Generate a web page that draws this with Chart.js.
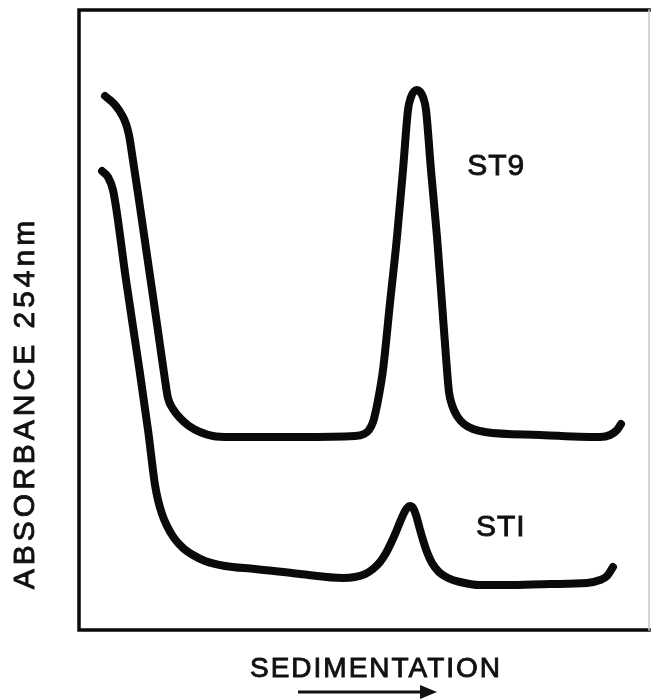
<!DOCTYPE html>
<html>
<head>
<meta charset="utf-8">
<script src="https://cdn.jsdelivr.net/npm/chart.js@4.4.0/dist/chart.umd.min.js"></script>
<style>
    html, body { margin: 0; padding: 0; background: #fff; }
    #wrap { width: 651px; height: 700px; }
</style>
</head>
<body>
<div id="wrap"><canvas id="myChart" width="651" height="700"></canvas></div>
<script>
// sedimentation profiles, arbitrary units (x: distance, y: absorbance)
const st9X = [4.56, 5.44, 6.49, 7.54, 8.25, 8.77, 9.12, 10.70, 12.46, 13.86, 15.09, 15.61, 16.49, 17.72, 19.30,
    21.23, 23.51, 26.49, 38.77, 48.42, 50.00, 50.88, 51.58, 52.11, 52.63, 53.33, 54.56, 55.79, 56.84, 57.72,
    58.25, 58.77, 59.30, 59.82, 60.35, 60.88, 61.75, 62.81, 63.68, 64.56, 64.91, 65.44, 66.32, 67.54, 69.12,
    71.23, 80.88, 91.40, 93.16, 94.39, 95.09];
const st9Y = [86.13, 85.48, 84.52, 83.06, 81.61, 79.84, 77.90, 68.23, 57.10, 48.23, 40.32, 37.42, 35.65, 34.19, 32.90,
    31.94, 31.29, 31.13, 31.13, 31.29, 31.61, 32.26, 33.55, 35.48, 37.90, 41.94, 52.74, 63.39, 74.19, 83.87,
    85.97, 86.85, 87.10, 86.85, 85.97, 83.87, 74.19, 63.39, 52.74, 41.94, 38.39, 36.29, 34.52, 33.23, 32.42,
    31.94, 31.45, 31.13, 31.45, 32.26, 33.23];

const st1X = [4.04, 5.09, 5.96, 6.49, 8.25, 10.35, 12.11, 13.33, 13.86, 14.56, 15.44, 16.67, 18.25, 20.00, 22.11,
    25.61, 30.88, 38.77, 46.32, 48.42, 50.18, 51.58, 52.81, 53.86, 54.74, 55.61, 56.32, 57.02, 57.54, 58.07,
    58.60, 59.12, 59.65, 60.35, 61.05, 61.93, 63.16, 64.74, 66.84, 70.35, 75.09, 82.63, 89.12, 91.40, 92.63, 93.68];
const st1Y = [74.03, 73.06, 70.97, 68.23, 56.45, 43.55, 32.26, 23.39, 20.97, 18.71, 16.77, 14.84, 13.23, 12.10, 11.13,
    10.32, 9.84, 9.03, 8.39, 8.55, 9.03, 9.84, 10.97, 12.42, 14.03, 15.81, 17.42, 18.87, 19.68, 20.00,
    19.68, 18.55, 16.77, 14.52, 12.58, 10.81, 9.35, 8.39, 7.74, 7.26, 7.26, 7.42, 7.58, 8.06, 8.71, 10.16];

const seriesNames = ['ST9', 'STI'];
const axisTitleY = 'ABSORBANCE 254nm';
const axisTitleX = 'SEDIMENTATION';

// where the curve labels sit (data units)
const labelSpots = [[73.2, 74.8], [74.0, 16.5]];

function toPoints(xs, ys) {
    return xs.map((x, i) => ({ x: x, y: ys[i] }));
}

const FONT = '"Liberation Sans", Arial, sans-serif';

// fill + thin stroke, the lettering in the scan is a bit heavier than regular
function heavyText(ctx, txt, x, y) {
    ctx.fillText(txt, x, y);
    ctx.strokeText(txt, x, y);
}

const decorPlugin = {
    id: 'decor',
    beforeDatasetsDraw(chart) {
        const { ctx, chartArea: a } = chart;
        ctx.save();
        // frame: heavy left/top/bottom, faint right
        ctx.strokeStyle = '#0a0a0a';
        ctx.lineWidth = 3.5;
        ctx.lineCap = 'square';
        ctx.beginPath();
        ctx.moveTo(a.right, a.top);
        ctx.lineTo(a.left, a.top);
        ctx.lineTo(a.left, a.bottom);
        ctx.lineTo(a.right, a.bottom);
        ctx.stroke();
        ctx.strokeStyle = '#c8c8c8';
        ctx.lineWidth = 1.5;
        ctx.beginPath();
        ctx.moveTo(a.right, a.top);
        ctx.lineTo(a.right, a.bottom);
        ctx.stroke();
        ctx.restore();
    },
    afterDraw(chart) {
        const { ctx, scales } = chart;
        ctx.save();
        ctx.fillStyle = '#111';
        ctx.strokeStyle = '#111';
        ctx.lineWidth = 0.9;
        ctx.textAlign = 'center';
        ctx.textBaseline = 'middle';

        // curve labels
        ctx.font = '30px ' + FONT;
        ctx.letterSpacing = '1px';
        seriesNames.forEach((name, i) => {
            const px = scales.x.getPixelForValue(labelSpots[i][0]);
            const py = scales.y.getPixelForValue(labelSpots[i][1]);
            heavyText(ctx, name, px, py);
        });

        // y title, rotated
        ctx.save();
        ctx.translate(26, 403);
        ctx.rotate(-Math.PI / 2);
        ctx.font = '30px ' + FONT;
        ctx.letterSpacing = '4px';
        heavyText(ctx, axisTitleY, 0, 0);
        ctx.restore();

        // x title
        ctx.font = '28px ' + FONT;
        ctx.letterSpacing = '2px';
        heavyText(ctx, axisTitleX, 376, 669);

        // arrow under it
        ctx.lineWidth = 3;
        ctx.beginPath();
        ctx.moveTo(298, 692);
        ctx.lineTo(424, 692);
        ctx.stroke();
        ctx.beginPath();
        ctx.moveTo(437, 692);
        ctx.lineTo(420, 685);
        ctx.lineTo(420, 699);
        ctx.closePath();
        ctx.fill();
        ctx.restore();
    }
};

const lineStyle = {
    showLine: true,
    fill: false,
    borderColor: '#0a0a0a',
    borderWidth: 8,
    borderCapStyle: 'round',
    borderJoinStyle: 'round',
    cubicInterpolationMode: 'monotone',
    pointRadius: 0,
    pointHoverRadius: 0,
    clip: false
};

let ctx = document.getElementById('myChart').getContext('2d');

var myChart = new Chart(ctx, {
    type: 'scatter',
    data: {
        datasets: [
            Object.assign({ label: seriesNames[0], data: toPoints(st9X, st9Y) }, lineStyle),
            Object.assign({ label: seriesNames[1], data: toPoints(st1X, st1Y) }, lineStyle)
        ]
    },
    options: {
        responsive: false,
        animation: false,
        layout: {
            padding: { left: 79, top: 10, right: 2, bottom: 70 }
        },
        plugins: {
            legend: { display: false },
            tooltip: { enabled: false }
        },
        scales: {
            x: { type: 'linear', min: 0, max: 100, display: false },
            y: { type: 'linear', min: 0, max: 100, display: false }
        }
    },
    plugins: [decorPlugin]
});
</script>
</body>
</html>
